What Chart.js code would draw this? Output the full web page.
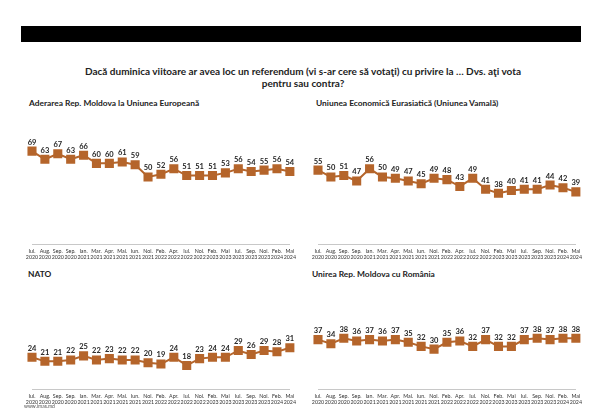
<!DOCTYPE html>
<html>
<head>
<meta charset="utf-8">
<script src="https://cdn.jsdelivr.net/npm/chart.js@4.4.1/dist/chart.umd.min.js"></script>
<style>
    body { margin: 0; background: #fff; width: 600px; height: 413px; position: relative; overflow: hidden; font-family: Lato, "Noto Sans", sans-serif; }
    .bar { position: absolute; left: 21px; top: 26px; width: 560px; height: 16px; background: #000; }
    .title { position: absolute; left: 0; width: 606px; top: 65px; text-align: center; font-weight: bold; font-size: 10px; line-height: 12px; color: #222; }
    .sub { position: absolute; font-weight: bold; font-size: 8.4px; color: #222; white-space: nowrap; }
    .box { position: absolute; width: 300px; height: 168px; }
    .foot { position: absolute; left: 24px; top: 403px; font-size: 5px; color: #555; }
</style>
</head>
<body>
<div class="bar"></div>
<div class="title">Dacă duminica viitoare ar avea loc un referendum (vi s-ar cere să votaţi) cu privire la … Dvs. aţi vota<br>pentru sau contra?</div>
<div class="sub" style="left:29px; top:98px;">Aderarea Rep. Moldova la Uniunea Europeană</div>
<div class="sub" style="left:316px; top:98px;">Uniunea Economică Eurasiatică (Uniunea Vamală)</div>
<div class="sub" style="left:28px; top:269px;">NATO</div>
<div class="sub" style="left:312px; top:269px;">Unirea Rep. Moldova cu România</div>
<div class="box" style="left:0; top:100px;"><canvas id="c1"></canvas></div>
<div class="box" style="left:286px; top:100px;"><canvas id="c2"></canvas></div>
<div class="box" style="left:0; top:245px;"><canvas id="c3"></canvas></div>
<div class="box" style="left:286px; top:245px;"><canvas id="c4"></canvas></div>
<div class="foot">www.imas.md</div>
<script>
const months = ['Iul.', 'Aug.', 'Sep.', 'Sep.', 'Ian.', 'Mar.', 'Apr.', 'Mai.', 'Iun.', 'Noi.', 'Feb.', 'Apr.', 'Iul.', 'Noi.', 'Feb.', 'Mai', 'Iul.', 'Sep.', 'Noi.', 'Feb.', 'Mai'];
const years = ['2020', '2020', '2020', '2020', '2021', '2021', '2021', '2021', '2021', '2021', '2022', '2022', '2022', '2022', '2023', '2023', '2023', '2023', '2023', '2024', '2024'];

const euValues = [69, 63, 67, 63, 66, 60, 60, 61, 59, 50, 52, 56, 51, 51, 51, 53, 56, 54, 55, 56, 54];
const eaeuValues = [55, 50, 51, 47, 56, 50, 49, 47, 45, 49, 48, 43, 49, 41, 38, 40, 41, 41, 44, 42, 39];
const natoValues = [24, 21, 21, 22, 25, 22, 23, 22, 22, 20, 19, 24, 18, 23, 24, 24, 29, 26, 29, 28, 31];
const unionValues = [37, 34, 38, 36, 37, 36, 37, 35, 32, 30, 35, 36, 32, 37, 32, 32, 37, 38, 37, 38, 38];

const labels = months.map(function (m, i) { return [m, years[i]]; });
const brown = 'rgb(181, 101, 43)';

const valueLabels = {
    id: 'value_labels',
    afterDatasetsDraw: (chart) => {
        const ctx = chart.ctx;
        const meta = chart.getDatasetMeta(0);
        ctx.save();
        ctx.font = 'bold 7.5px Lato, "Noto Sans", sans-serif';
        ctx.fillStyle = '#262626';
        ctx.textAlign = 'center';
        ctx.textBaseline = 'middle';
        meta.data.forEach(function (pt, i) {
            ctx.fillText(chart.data.datasets[0].data[i], pt.x, pt.y - 9);
        });
        ctx.restore();
    }
};

function makeChart(id, values, padLeft, padRight) {
    return new Chart(document.getElementById(id), {
        type: 'line',
        data: {
            labels: labels,
            datasets: [{
                data: values,
                borderColor: brown,
                backgroundColor: brown,
                borderWidth: 2,
                pointStyle: 'rect',
                pointRadius: 5,
                pointHoverRadius: 5,
                tension: 0,
                clip: false
            }]
        },
        options: {
            responsive: true,
            maintainAspectRatio: false,
            animation: false,
            events: [],
            plugins: {
                legend: { display: false },
                tooltip: { enabled: false }
            },
            layout: {
                padding: { left: padLeft, right: padRight, top: 9, bottom: 4 }
            },
            scales: {
                x: {
                    offset: false,
                    grid: { display: false, drawTicks: false },
                    border: { display: true, color: '#c8c8c8', width: 1 },
                    ticks: {
                        color: '#333',
                        autoSkip: false,
                        maxRotation: 0,
                        padding: 4,
                        font: { size: 5.3, family: 'Lato, "Noto Sans", sans-serif', lineHeight: 1.05 }
                    }
                },
                y: {
                    display: false,
                    min: 0,
                    max: 100
                }
            }
        },
        plugins: [valueLabels]
    });
}

makeChart('c1', euValues, 32, 7);
makeChart('c2', eaeuValues, 32, 7);
makeChart('c3', natoValues, 32, 7);
makeChart('c4', unionValues, 32, 7);
</script>
</body>
</html>
